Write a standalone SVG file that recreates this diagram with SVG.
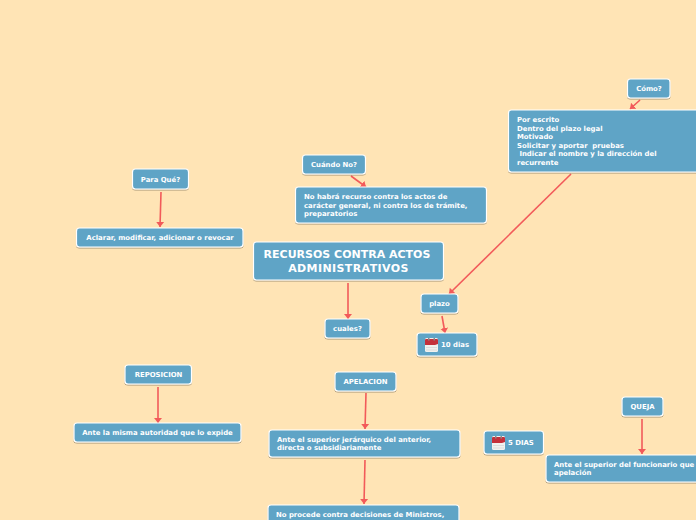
<svg xmlns="http://www.w3.org/2000/svg" width="696" height="520" viewBox="0 0 696 520">
<style>
.n{fill:#5fa4c6;stroke:#fff;stroke-width:1.2;filter:url(#s)}
.t{font-family:"DejaVu Sans",Verdana,sans-serif;font-weight:700;font-size:6.9px;fill:#fff}
.h{font-size:11px}
.c{stroke:#f25a5a;stroke-width:1.6;fill:none;marker-end:url(#a)}
</style>
<defs>
<filter id="s" x="-10%" y="-20%" width="120%" height="150%"><feDropShadow dx="0" dy="1" stdDeviation="0.6" flood-color="#000" flood-opacity="0.35"/></filter>
<marker id="a" markerUnits="userSpaceOnUse" markerWidth="6" markerHeight="10" refX="5" refY="5" orient="auto"><path d="M0 1L5 5L0 9Z" fill="#f25a5a"/></marker>
<g id="cal"><rect x="0" y="0" width="13" height="14" rx="1.5" fill="#f1f1ee"/><path d="M0 1.500Q0 1 1 1H12Q13 1 13 1.500V6L10 7H0Z" fill="#c4303b"/><rect x="3" y="0" width="1.500" height="2.500" fill="#8a8a8a"/><rect x="8.500" y="0" width="1.500" height="2.500" fill="#8a8a8a"/><path d="M1 9.500H12M1 12H12" stroke="#d4d4d4" stroke-width="0.7"/></g>
</defs>
<rect width="696" height="520" fill="#ffe4b5"/>
<g id="connectors">
<path class="c" d="M640 100L630 109"/>
<path class="c" d="M571 174L449 294"/>
<path class="c" d="M351 176L366 187"/>
<path class="c" d="M161 192L160 227"/>
<path class="c" d="M348 283L348 319"/>
<path class="c" d="M442 316L445 333"/>
<path class="c" d="M158 387L158 423"/>
<path class="c" d="M366 393L365 429"/>
<path class="c" d="M365 460L364 504"/>
<path class="c" d="M642 419L642 454"/>
</g>
<g id="n-como"><rect class="n" x="627.500" y="79" width="42.500" height="19" rx="3"/><text class="t" x="649" y="91" text-anchor="middle">Cómo?</text></g>
<g id="n-por"><rect class="n" x="508.500" y="110" width="200" height="62" rx="3"/><text class="t"><tspan x="517" y="122">Por escrito</tspan><tspan x="517" y="131">Dentro del plazo legal</tspan><tspan x="517" y="139">Motivado</tspan><tspan x="517" y="148">Solicitar y aportar&#160; pruebas</tspan><tspan x="517" y="156">&#160;Indicar el nombre y la dirección del</tspan><tspan x="517" y="165">recurrente</tspan></text></g>
<g id="n-cuando"><rect class="n" x="302.500" y="155" width="63" height="19" rx="3"/><text class="t" x="334" y="167" text-anchor="middle">Cuándo No?</text></g>
<g id="n-nohabra"><rect class="n" x="295.500" y="187" width="191" height="36" rx="3"/><text class="t"><tspan x="304" y="199">No habrá recurso contra los actos de</tspan><tspan x="304" y="208">carácter general, ni contra los de trámite,</tspan><tspan x="304" y="216">preparatorios</tspan></text></g>
<g id="n-para"><rect class="n" x="132.500" y="169" width="56" height="20" rx="3"/><text class="t" x="160.500" y="182" text-anchor="middle">Para Qué?</text></g>
<g id="n-aclarar"><rect class="n" x="76.500" y="228" width="166.500" height="19" rx="3"/><text class="t" x="160" y="240" text-anchor="middle">Aclarar, modificar, adicionar o revocar</text></g>
<g id="n-root"><rect class="n" x="253.500" y="242" width="190" height="38" rx="3"/><text class="t h"><tspan x="347" y="258" text-anchor="middle">RECURSOS CONTRA ACTOS</tspan><tspan x="348.500" y="272" text-anchor="middle" letter-spacing="0.4">ADMINISTRATIVOS</tspan></text></g>
<g id="n-plazo"><rect class="n" x="421" y="294" width="37" height="19" rx="3"/><text class="t" x="439.500" y="306" text-anchor="middle">plazo</text></g>
<g id="n-cuales"><rect class="n" x="325" y="319" width="45" height="19" rx="3"/><text class="t" x="347.500" y="331" text-anchor="middle">cuales?</text></g>
<g id="n-10"><rect class="n" x="417" y="333" width="60" height="23" rx="3"/><use href="#cal" x="425" y="338"/><text class="t" x="441" y="347">10 dias</text></g>
<g id="n-repo"><rect class="n" x="125" y="365" width="66.500" height="19" rx="3"/><text class="t" x="158.500" y="377" text-anchor="middle">REPOSICION</text></g>
<g id="n-ape"><rect class="n" x="335" y="372" width="61" height="19" rx="3"/><text class="t" x="365.500" y="384" text-anchor="middle">APELACION</text></g>
<g id="n-queja"><rect class="n" x="622" y="397" width="41" height="19" rx="3"/><text class="t" x="642.500" y="409" text-anchor="middle">QUEJA</text></g>
<g id="n-ante1"><rect class="n" x="74" y="423" width="167" height="19" rx="3"/><text class="t" x="157.500" y="435" text-anchor="middle">Ante la misma autoridad que lo expide</text></g>
<g id="n-ante2"><rect class="n" x="269" y="430" width="191" height="27" rx="3"/><text class="t"><tspan x="277" y="442">Ante el superior jerárquico del anterior,</tspan><tspan x="277" y="450">directa o subsidiariamente</tspan></text></g>
<g id="n-5"><rect class="n" x="484" y="431" width="59.500" height="23" rx="3"/><use href="#cal" x="492" y="436"/><text class="t" x="508" y="445">5 DIAS</text></g>
<g id="n-ante3"><rect class="n" x="546" y="455" width="170" height="27" rx="3"/><text class="t"><tspan x="554" y="467">Ante el superior del funcionario que</tspan><tspan x="554" y="475">apelación</tspan></text></g>
<g id="n-noproc"><rect class="n" x="268" y="505" width="191" height="40" rx="3"/><text class="t" x="276" y="517">No procede contra decisiones de Ministros,</text></g>
</svg>
